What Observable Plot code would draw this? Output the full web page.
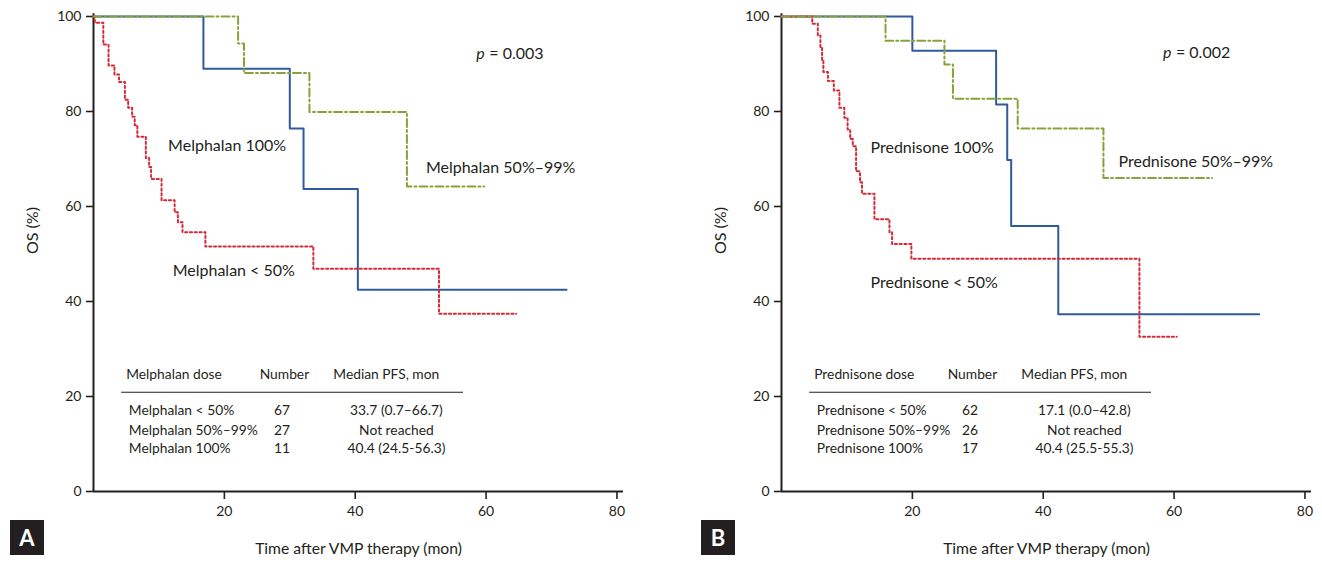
<!DOCTYPE html>
<html><head><meta charset="utf-8">
<script src="https://cdn.jsdelivr.net/npm/d3@7"></script>
<script src="https://cdn.jsdelivr.net/npm/@observablehq/plot@0.6"></script>
<style>
body{margin:0;background:#fff;}
#wrap{position:relative;width:1322px;height:562px;font-family:Lato,"Open Sans",sans-serif;overflow:hidden;}
.panel{position:absolute;top:0;}
.tag{position:absolute;top:520px;width:34px;height:35px;background:#231f20;color:#fff;font:bold 22px Lato,sans-serif;display:flex;align-items:center;justify-content:center;}
</style></head><body><div id="wrap"></div>
<script>
// ---------- data ----------
const xTicks = [20, 40, 60, 80];
const yTicks = [0, 20, 40, 60, 80, 100];
const xLabel = "Time after VMP therapy (mon)";
const yLabel = "OS (%)";

// Panel A: Melphalan
const melph100Time = [0, 16.8, 30.0, 32.1, 40.4, 72.3];
const melph100OS   = [100, 89.0, 76.4, 63.7, 42.5, 42.5];
const melph5099Time = [0, 22.1, 23.0, 33.0, 47.9, 59.7];
const melph5099OS   = [100, 94.3, 88.1, 79.9, 64.2, 64.2];
const melph50Time = [0, 0.2, 1.5, 2.3, 3.2, 3.9, 4.8, 5.3, 5.9, 6.3, 6.7, 8.0, 8.5, 8.8, 10.4, 12.4, 12.9, 13.6, 17.1, 33.6, 52.8, 64.6];
const melph50OS   = [100, 98.7, 94.1, 89.7, 87.8, 86.2, 82.5, 80.8, 78.9, 77.1, 74.7, 70.2, 68.3, 65.8, 61.3, 58.8, 56.7, 54.6, 51.6, 46.9, 37.4, 37.4];
const melphSeriesNames = ["Melphalan < 50%", "Melphalan 50%–99%", "Melphalan 100%"];
const melphNumbers = ["67", "27", "11"];
const melphMedians = ["33.7 (0.7–66.7)", "Not reached", "40.4 (24.5-56.3)"];
const melphHeader = ["Melphalan dose", "Number", "Median PFS, mon"];
const melphP = "0.003";

// Panel B: Prednisone
const pred100Time = [0, 20.0, 32.8, 34.5, 35.1, 42.3, 73.0];
const pred100OS   = [100, 92.8, 81.5, 69.8, 55.9, 37.3, 37.3];
const pred5099Time = [0, 15.9, 24.9, 26.2, 36.1, 49.2, 65.8];
const pred5099OS   = [100, 94.9, 89.9, 82.7, 76.4, 66.0, 66.0];
const pred50Time = [0, 4.7, 5.55, 5.95, 6.2, 6.4, 7.1, 8.0, 8.85, 9.6, 10.1, 10.5, 10.9, 11.4, 12.0, 12.3, 14.2, 16.5, 16.9, 19.85, 54.7, 60.4];
const pred50OS   = [100, 98.5, 96.0, 93.5, 90.7, 88.3, 86.4, 84.4, 80.8, 78.7, 76.2, 74.2, 72.7, 67.4, 65.1, 62.7, 57.3, 54.6, 52.1, 49.0, 32.6, 32.6];
const predSeriesNames = ["Prednisone < 50%", "Prednisone 50%–99%", "Prednisone 100%"];
const predNumbers = ["62", "26", "17"];
const predMedians = ["17.1 (0.0–42.8)", "Not reached", "40.4 (25.5-55.3)"];
const predHeader = ["Prednisone dose", "Number", "Median PFS, mon"];
const predP = "0.002";

// ---------- styles / layout ----------
const INK = "#231f20";
const COLORS = {low: "#d62a36", mid: "#86a23a", full: "#2f5b9c"};

function zip(t, v) { return t.map((d, i) => ({t: d, v: v[i]})); }

function panel(o) {
  const tableRowsY = [17.05, 12.85, 9.0];
  const rows = o.names.map((n, i) => ({name: n, num: o.numbers[i], med: o.medians[i], y: tableRowsY[i]}));
  const txt = {fill: INK, fontFamily: "Lato, sans-serif"};
  const T = 13.8;
  return Plot.plot({
    width: o.width, height: 562,
    marginLeft: 93, marginRight: o.marginRight, marginTop: 16, marginBottom: 71,
    x: {domain: [0, 81]},
    y: {domain: [0, 100]},
    style: {fontFamily: "Lato, sans-serif", color: INK, background: "transparent"},
    marks: [
      Plot.axisX({ticks: xTicks, tickSize: 8, tickPadding: 7, fontSize: 14, label: null, stroke: INK, strokeWidth: 1.6}),
      Plot.axisY({ticks: yTicks, tickSize: 7, tickPadding: 5, fontSize: 14, label: null, stroke: INK, strokeWidth: 1.6}),
      Plot.ruleX([0], {y1: 0, y2: 100.6, stroke: INK, strokeWidth: 2}),
      Plot.ruleY([0], {x1: 0, x2: 81, stroke: INK, strokeWidth: 2}),
      // curves
      Plot.line(zip(o.fullT, o.fullV), {x: "t", y: "v", curve: "step-after", stroke: COLORS.full, strokeWidth: 2}),
      Plot.line(zip(o.lowT, o.lowV), {x: "t", y: "v", curve: "step-after", stroke: COLORS.low, strokeWidth: 2, strokeDasharray: "2.2,2.6"}),
      Plot.line(zip(o.midT, o.midV), {x: "t", y: "v", curve: "step-after", stroke: COLORS.mid, strokeWidth: 2, strokeDasharray: "8,3,2,3"}),
      // curve labels
      Plot.text([o.names[2]], {x: o.lab100[0], y: o.lab100[1], textAnchor: "start", fontSize: 16, ...txt}),
      Plot.text([o.names[1]], {x: o.labMid[0], y: o.labMid[1], textAnchor: "start", fontSize: 16, ...txt}),
      Plot.text([o.names[0]], {x: o.labLow[0], y: o.labLow[1], textAnchor: "start", fontSize: 16, ...txt}),
      Plot.text([o.p], {x: o.labP[0], y: o.labP[1], textAnchor: "start", fontSize: 16, text: d => "= " + d, dx: 13, ...txt}),
      Plot.text(["p"], {x: o.labP[0], y: o.labP[1], textAnchor: "start", fontSize: 16, fontStyle: "italic", ...txt}),
      // table
      Plot.text([o.header[0]], {x: 5.0, y: 24.6, textAnchor: "start", fontSize: T, ...txt}),
      Plot.text([o.header[1]], {x: 25.4, y: 24.6, textAnchor: "start", fontSize: T, ...txt}),
      Plot.text([o.header[2]], {x: 36.65, y: 24.6, textAnchor: "start", fontSize: T, ...txt}),
      Plot.ruleY([20.9], {x1: 4.3, x2: 56.55, stroke: INK, strokeWidth: 1.2}),
      Plot.text(rows, {x: 5.4, y: "y", text: "name", textAnchor: "start", fontSize: T, ...txt}),
      Plot.text(rows, {x: 28.8, y: "y", text: "num", textAnchor: "middle", fontSize: T, ...txt}),
      Plot.text(rows, {x: 46.3, y: "y", text: "med", textAnchor: "middle", fontSize: T, ...txt}),
      // axis titles
      Plot.text([yLabel], {frameAnchor: "left", dx: -61, rotate: -90, fontSize: 16, ...txt}),
      Plot.text([xLabel], {frameAnchor: "bottom", dy: 62, fontSize: 15.7, ...txt})
    ]
  });
}

const wrap = document.getElementById("wrap");
const A = panel({
  width: 661, marginRight: 38,
  fullT: melph100Time, fullV: melph100OS,
  midT: melph5099Time, midV: melph5099OS,
  lowT: melph50Time, lowV: melph50OS,
  names: melphSeriesNames, numbers: melphNumbers, medians: melphMedians, header: melphHeader, p: melphP,
  lab100: [11.4, 72.8], labMid: [50.8, 68.2], labLow: [12.1, 46.5], labP: [58.5, 92.2]
});
A.classList.add("panel"); A.style.left = "0px";
wrap.appendChild(A);

const B = panel({
  width: 634, marginRight: 11,
  fullT: pred100Time, fullV: pred100OS,
  midT: pred5099Time, midV: pred5099OS,
  lowT: pred50Time, lowV: pred50OS,
  names: predSeriesNames, numbers: predNumbers, medians: predMedians, header: predHeader, p: predP,
  lab100: [13.6, 72.4], labMid: [51.5, 69.5], labLow: [13.6, 44.0], labP: [58.3, 92.4]
});
B.classList.add("panel"); B.style.left = "688px";
wrap.appendChild(B);

for (const [label, left] of [["A", 10], ["B", 701]]) {
  const d = document.createElement("div");
  d.className = "tag"; d.textContent = label; d.style.left = left + "px";
  wrap.appendChild(d);
}
</script>
</body></html>
